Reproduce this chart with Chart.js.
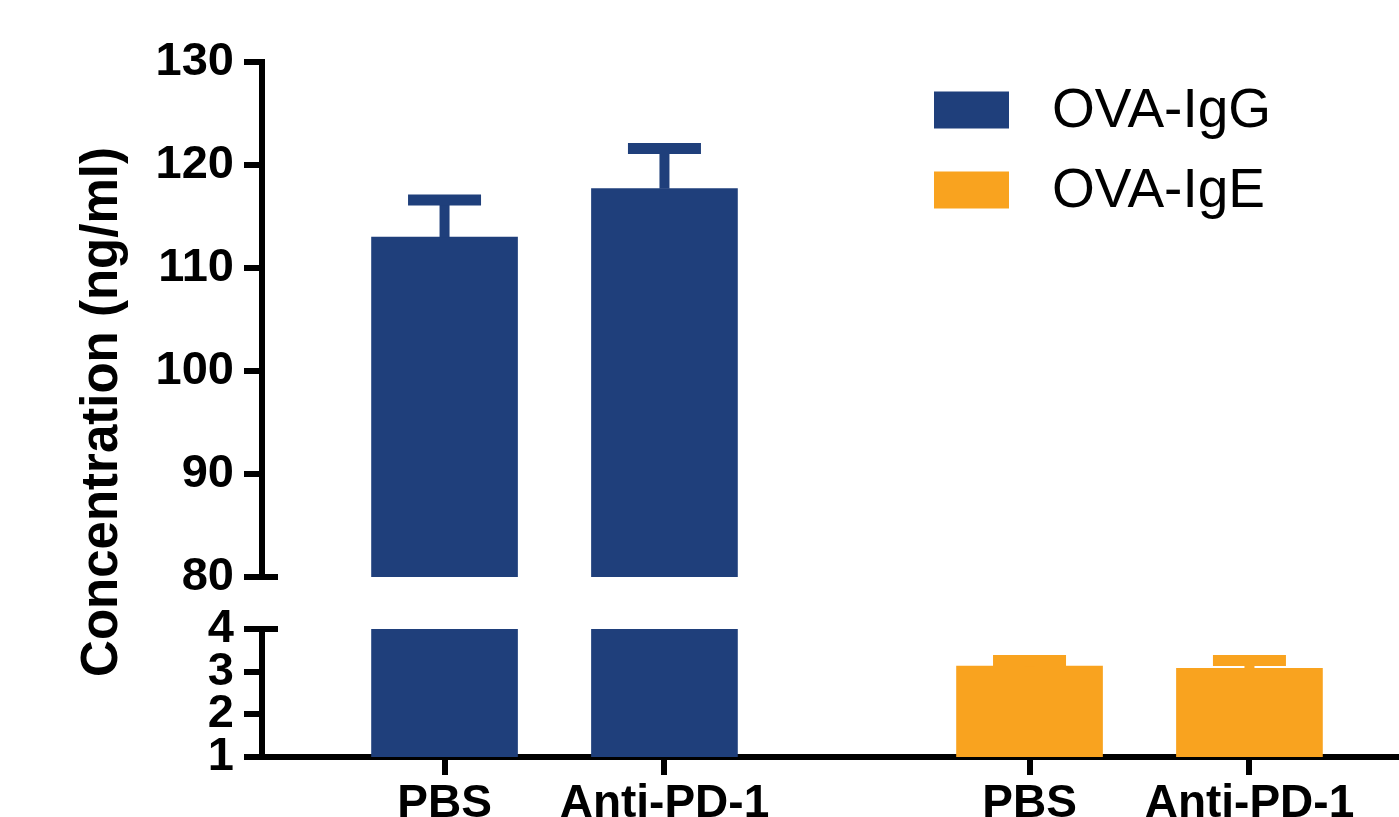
<!DOCTYPE html>
<html lang="en">
<head>
<meta charset="UTF-8">
<title>OVA-IgG / OVA-IgE</title>
<style>
  html, body { margin: 0; padding: 0; background: #fff; }
  #wrap { position: relative; width: 1399px; height: 817px; }
  #wrap canvas { position: absolute; left: 0; top: 0; }
</style>
</head>
<body>
<div id="wrap">
  <canvas id="chartLow" width="1399" height="817"></canvas>
  <canvas id="chartHigh" width="1399" height="817"></canvas>
</div>
<script src="https://cdn.jsdelivr.net/npm/chart.js@4.4.1/dist/chart.umd.min.js"></script>
<script>
// data
const groups = ["PBS", "Anti-PD-1", "PBS", "Anti-PD-1"];
const xPos = [1, 2, 3.66, 4.66];
const iggMean = [113.0, 117.7];
const iggSd = [3.6, 3.9];
const igeMean = [3.13, 3.08];
const igeSd = [0.13, 0.18];
const highTicks = [80, 90, 100, 110, 120, 130];
const lowTicks = [1, 2, 3, 4];

const BLUE = "#1f3f7b";
const ORANGE = "#f9a31f";

Chart.defaults.font.family = '"Liberation Sans", Arial, sans-serif';
Chart.defaults.color = "#000";

const igg = {
  label: "OVA-IgG",
  data: iggMean.map((v, i) => ({ x: xPos[i], y: v })),
  sd: iggSd,
  backgroundColor: BLUE
};
const ige = {
  label: "OVA-IgE",
  data: igeMean.map((v, i) => ({ x: xPos[i + 2], y: v })),
  sd: igeSd,
  backgroundColor: ORANGE
};

// error bars (upper only), clipped to the plot area
const errorBars = {
  id: "errorBars",
  afterDatasetsDraw(chart) {
    const { ctx, chartArea } = chart;
    ctx.save();
    ctx.beginPath();
    ctx.rect(chartArea.left, chartArea.top, chartArea.right - chartArea.left, chartArea.bottom - chartArea.top);
    ctx.clip();
    chart.data.datasets.forEach((ds, i) => {
      const meta = chart.getDatasetMeta(i);
      const yScale = chart.scales[meta.yAxisID];
      ctx.strokeStyle = ds.backgroundColor;
      meta.data.forEach((bar, j) => {
        const top = yScale.getPixelForValue(ds.data[j].y + ds.sd[j]);
        const half = bar.width / 4;
        ctx.lineWidth = 10;
        ctx.beginPath();
        ctx.moveTo(bar.x, bar.y);
        ctx.lineTo(bar.x, top);
        ctx.stroke();
        ctx.lineWidth = 11;
        ctx.beginPath();
        ctx.moveTo(bar.x - half, top);
        ctx.lineTo(bar.x + half, top);
        ctx.stroke();
      });
    });
    ctx.restore();
  }
};

// small crossbar where the y axis is broken
const axisBreak = {
  id: "axisBreak",
  afterDraw(chart, args, opts) {
    const y = chart.scales.y;
    const py = y.getPixelForValue(opts.at === "min" ? y.min : y.max);
    const left = chart.chartArea.left;
    const ctx = chart.ctx;
    ctx.save();
    ctx.strokeStyle = "#000";
    ctx.lineWidth = 6;
    ctx.beginPath();
    ctx.moveTo(left - 18, py);
    ctx.lineTo(left + 16, py);
    ctx.stroke();
    ctx.restore();
  }
};

// legend and y title, drawn on the lower (full height) canvas
const legendAndTitle = {
  id: "legendAndTitle",
  afterDraw(chart) {
    const ctx = chart.ctx;
    ctx.save();
    ctx.textBaseline = "middle";
    ctx.textAlign = "left";
    chart.data.datasets.forEach((ds, i) => {
      const cy = 110 + i * 80;
      ctx.fillStyle = ds.backgroundColor;
      ctx.fillRect(934, cy - 18.5, 75, 37);
      ctx.fillStyle = "#000";
      ctx.font = '55px "Liberation Sans", Arial, sans-serif';
      ctx.fillText(ds.label, 1052, cy + 2);
    });
    ctx.translate(103, 412);
    ctx.rotate(-Math.PI / 2);
    ctx.textAlign = "center";
    ctx.font = 'bold 51px "Liberation Sans", Arial, sans-serif';
    ctx.fillText("Concentration (ng/ml)", 0, 0);
    ctx.restore();
  }
};

function yAxis(min, max, ticks) {
  return {
    min: min,
    max: max,
    afterFit(s) { s.width = 262; },
    afterBuildTicks(s) { s.ticks = ticks.map(v => ({ value: v })); },
    border: { color: "#000", width: 6 },
    grid: { drawOnChartArea: false, color: "#000", lineWidth: 6, tickLength: 18 },
    ticks: { color: "#000", padding: 10, autoSkip: false, font: { size: 47, weight: "bold" } }
  };
}

const barOpts = { barThickness: 146, grouped: false, borderWidth: 0 };

new Chart("chartLow", {
  type: "bar",
  data: { datasets: [{ ...igg, clip: 0 }, { ...ige, clip: 0 }] },
  options: {
    responsive: false,
    animation: false,
    datasets: { bar: barOpts },
    layout: { padding: { top: 629, left: 0, right: 0, bottom: 0 } },
    plugins: { legend: { display: false }, tooltip: { enabled: false }, axisBreak: { at: "max" } },
    scales: {
      x: {
        type: "linear",
        min: 0.17,
        max: 5.34,
        offset: false,
        afterFit(s) { s.height = 60; },
        afterBuildTicks(s) { s.ticks = xPos.map(v => ({ value: v })); },
        border: { color: "#000", width: 6 },
        grid: { offset: false, drawOnChartArea: false, color: "#000", lineWidth: 6, tickLength: 18 },
        ticks: {
          color: "#000",
          padding: 2,
          autoSkip: false,
          maxRotation: 0,
          font: { size: 46, weight: "bold" },
          callback: (v, i) => groups[i]
        }
      },
      y: yAxis(1, 4, lowTicks)
    }
  },
  plugins: [errorBars, axisBreak, legendAndTitle]
});

new Chart("chartHigh", {
  type: "bar",
  data: { datasets: [{ ...igg, clip: 0 }] },
  options: {
    responsive: false,
    animation: false,
    datasets: { bar: barOpts },
    layout: { padding: { top: 62, left: 0, right: 0, bottom: 240 } },
    plugins: { legend: { display: false }, tooltip: { enabled: false }, axisBreak: { at: "min" } },
    scales: {
      x: { type: "linear", min: 0.17, max: 5.34, offset: false, grid: { offset: false }, display: false },
      y: yAxis(80, 130, highTicks)
    }
  },
  plugins: [errorBars, axisBreak]
});
</script>
</body>
</html>
